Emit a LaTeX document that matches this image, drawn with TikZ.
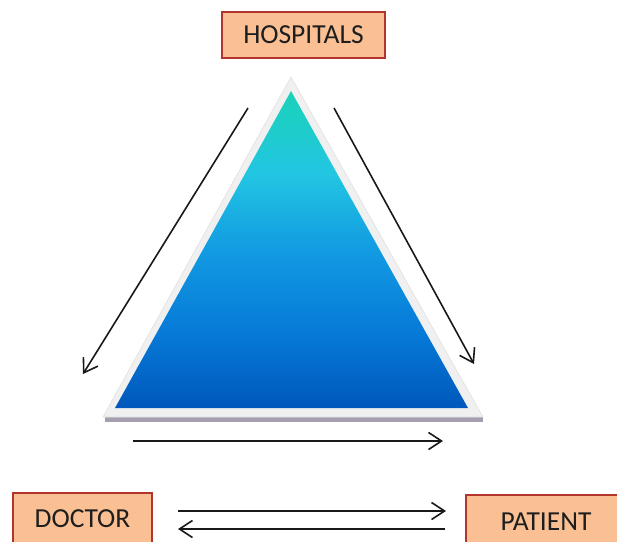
\documentclass[tikz,border=0pt]{standalone}
\usepackage{fontspec}
\setmainfont{Carlito}
\usetikzlibrary{arrows.meta}
\definecolor{boxfill}{RGB}{250,192,148}
\definecolor{boxline}{RGB}{178,52,42}
\definecolor{txt}{RGB}{30,30,30}
\definecolor{shadowc}{RGB}{165,158,175}
\definecolor{cA}{RGB}{0,88,188}
\definecolor{cB}{RGB}{6,122,216}
\definecolor{cC}{RGB}{18,155,226}
\definecolor{cD}{RGB}{34,198,226}
\definecolor{cE}{RGB}{26,210,184}
\pgfdeclareverticalshading{trishade}{100bp}{color(0bp)=(cA); color(25bp)=(cA); color(37bp)=(cB); color(50bp)=(cC); color(62bp)=(cD); color(75bp)=(cE); color(100bp)=(cE)}
\tikzset{
  labelbox/.style={draw=boxline, line width=1.4pt, fill=boxfill, text=txt,
    font=\fontsize{27.5}{32}\selectfont, inner sep=0pt},
  arr/.style={-{Straight Barb[length=13pt,width=17pt,line width=1.6pt]}, line width=1.6pt, black!90}
}
\begin{document}
\begin{tikzpicture}[x=1pt,y=-1pt]
\useasboundingbox (0,0) rectangle (617,541);
\clip (0,0) rectangle (617,541);
% triangle
\fill[shadowc] (105,416) rectangle (483,422);
\filldraw[fill=black!6, draw=black!12, line width=0.6pt] (291,77) -- (483,417) -- (103,417) -- cycle;
\shade[shading=trishade] (291,91) -- (468,408) -- (115,408) -- cycle;
% boxes
\node[labelbox, minimum width=163pt, minimum height=46pt] (hosp) at (303.5,35) {HOSPITALS};
\node[labelbox, minimum width=139pt, minimum height=52pt] (doc) at (82.5,519) {DOCTOR};
\node[labelbox, minimum width=160pt, minimum height=54pt] (pat) at (546,522) {PATIENT};
% arrow ends
\coordinate (l1) at (248,108);
\coordinate (l2) at (83,374);
\coordinate (r1) at (334,108);
\coordinate (r2) at (474,364);
\coordinate (b1) at (133,441);
\coordinate (b2) at (443,441);
\coordinate (u1) at (178,511);
\coordinate (u2) at (446,511);
\coordinate (w1) at (445,529);
\coordinate (w2) at (178,529);
\draw[arr] (l1) -- (l2);
\draw[arr] (r1) -- (r2);
\draw[arr] (b1) -- (b2);
\draw[arr] (u1) -- (u2);
\draw[arr] (w1) -- (w2);
\end{tikzpicture}
\end{document}
